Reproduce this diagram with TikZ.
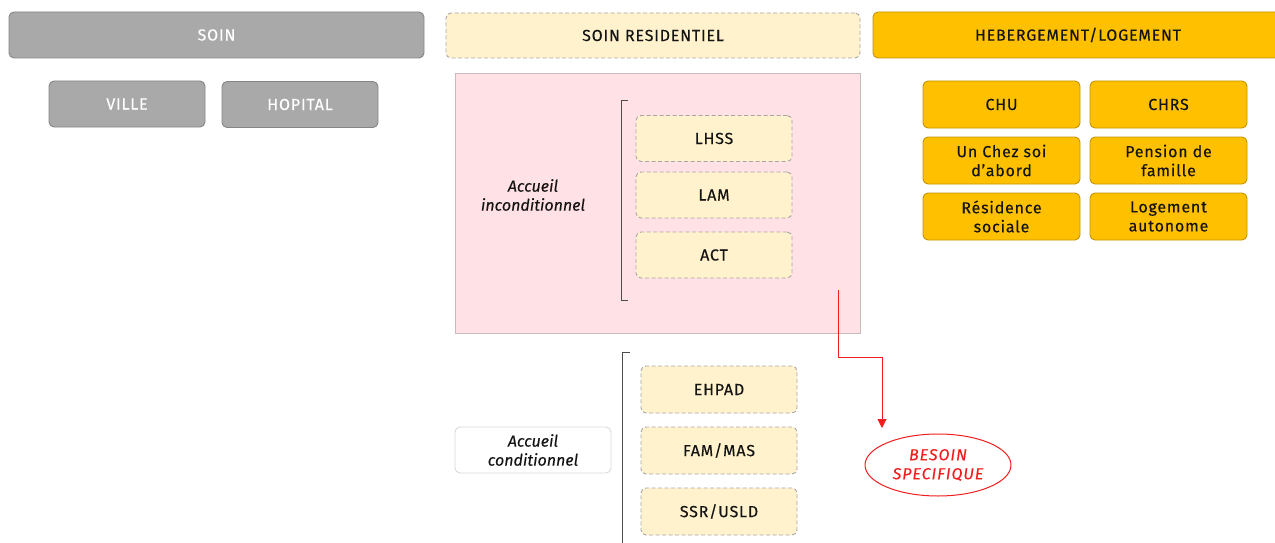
\documentclass[tikz,border=0pt]{standalone}
\usepackage{fontspec}
\setmainfont{Fira Sans}[UprightFeatures={FakeBold=0.25,LetterSpace=5},ItalicFeatures={FakeBold=0.25}]
\usetikzlibrary{arrows.meta,shapes.geometric,calc}
\definecolor{soingray}{HTML}{A9A9A9}
\definecolor{soinedge}{HTML}{858585}
\definecolor{cream}{HTML}{FFF2CC}
\definecolor{creamedge}{HTML}{A6A6A6}
\definecolor{gold}{HTML}{FFC000}
\definecolor{goldedge}{HTML}{C49400}
\definecolor{pinkbg}{HTML}{FFE1E6}
\definecolor{pinkedge}{HTML}{C4BCBE}
\definecolor{inkdark}{HTML}{141414}
\definecolor{alertred}{HTML}{F01E1E}
\tikzset{
  boxbase/.style={rounded corners=5pt, align=center, inner sep=0pt,
    font=\fontsize{16}{19}\selectfont, text=inkdark, line width=0.9pt},
  graybox/.style={boxbase, fill=soingray, draw=soinedge, text=white},
  creambox/.style={boxbase, fill=cream, draw=creamedge, dashed, dash pattern=on 4pt off 2.5pt},
  goldbox/.style={boxbase, fill=gold, draw=goldedge},
  notebox/.style={boxbase, fill=white, draw=black!15, font=\fontsize{16}{19}\selectfont\itshape},
  bracketline/.style={draw=black!70, line width=0.9pt},
  redline/.style={draw=alertred, line width=0.9pt},
}
\begin{document}
\begin{tikzpicture}[x=1pt,y=-1pt]
\useasboundingbox (0,0) rectangle (1275,543);

% care column
\node[graybox, minimum width=415, minimum height=46] (soin) at (216.5,35) {SOIN};
\node[graybox, minimum width=156, minimum height=46] (ville) at (127,104) {VILLE};
\node[graybox, minimum width=156, minimum height=46] (hopital) at (300,104.5) {HOPITAL};

% residential care column
\node[creambox, minimum width=414, minimum height=45] (resid) at (653,35.5) {SOIN RESIDENTIEL};
\fill[pinkbg, draw=pinkedge, line width=0.6pt] (455,73) rectangle (860,333);
\node[font=\fontsize{16}{19}\selectfont\itshape, text=inkdark, align=center] (incond) at (533,195) {Accueil\\inconditionnel};
\draw[bracketline] (628,100) -- (621,100) -- (621,300) -- (628,300);
\node[creambox, minimum width=156, minimum height=46] (lhss) at (714,138.5) {LHSS};
\node[creambox, minimum width=156, minimum height=46] (lam) at (714,195) {LAM};
\node[creambox, minimum width=156, minimum height=46] (act) at (714,255) {ACT};

\draw[bracketline] (630,352) -- (622,352) -- (622,543);
\node[creambox, minimum width=156, minimum height=47] (ehpad) at (719,389.5) {EHPAD};
\node[creambox, minimum width=156, minimum height=47] (fam) at (719,450.5) {FAM/MAS};
\node[creambox, minimum width=156, minimum height=47] (ssr) at (719,511.5) {SSR/USLD};
\node[notebox, minimum width=156, minimum height=46] (cond) at (533,450) {Accueil\\conditionnel};

% specific needs
\node[ellipse, draw=alertred, line width=1pt, fill=white, minimum width=146, minimum height=62, inner sep=0pt,
      text=alertred, font=\fontsize{16}{19}\selectfont\itshape\addfontfeatures{LetterSpace=6}, align=center] (besoin) at (938,465) {BESOIN\\SPECIFIQUE};
\coordinate (rstart) at (838,290);
\coordinate (rend) at (882,428);
\draw[redline, -{Triangle[length=9pt,width=9pt]}] (rstart) -- ++(0,67) -| (rend);

% housing column
\node[goldbox, minimum width=410, minimum height=46] (heberg) at (1078,35) {HEBERGEMENT/LOGEMENT};
\node[goldbox, minimum width=157, minimum height=47] (chu) at (1001.5,104.5) {CHU};
\node[goldbox, minimum width=157, minimum height=47] (chrs) at (1168.5,104.5) {CHRS};
\node[goldbox, minimum width=157, minimum height=47] (chez) at (1001.5,160.5) {Un Chez soi\\d'abord};
\node[goldbox, minimum width=157, minimum height=47] (pension) at (1168.5,160.5) {Pension de\\famille};
\node[goldbox, minimum width=157, minimum height=47] (resid2) at (1001.5,216.5) {Résidence\\sociale};
\node[goldbox, minimum width=157, minimum height=47] (logaut) at (1168.5,216.5) {Logement\\autonome};
\end{tikzpicture}
\end{document}
